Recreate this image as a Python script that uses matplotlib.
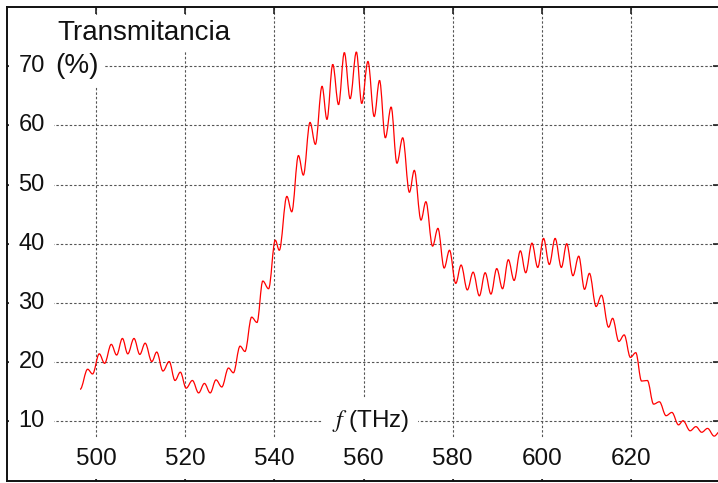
"""
Transmittance spectrum (Fabry-Perot ripple) redrawn with matplotlib.
"""
import matplotlib
matplotlib.use("Agg")
import matplotlib.pyplot as plt
import matplotlib.transforms as mtransforms
from matplotlib.path import Path
from matplotlib.patches import PathPatch

# Extrema of the ripple (frequency in THz, transmittance in %)
FREQ_THZ = [
    496.4, 498.1, 499.2, 500.7, 501.9, 503.4, 504.6, 505.9, 507.1, 508.5,
    509.8, 511.0, 512.5, 513.6, 515.0, 516.4, 517.7, 518.9, 520.2, 521.6,
    523.0, 524.3, 525.6, 526.9, 528.2, 529.7, 530.8, 532.3, 533.4, 534.9,
    536.1, 537.4, 538.7, 540.2, 541.1, 542.8, 543.9, 545.4, 546.5, 548.0,
    549.2, 550.7, 551.8, 553.1, 554.4, 555.7, 557.0, 558.4, 559.6, 561.0,
    562.4, 563.6, 564.9, 566.2, 567.5, 568.8, 570.3, 571.4, 572.9, 574.0,
    575.5, 576.7, 578.1, 579.3, 580.7, 581.9, 583.3, 584.6, 586.0, 587.3,
    588.6, 589.9, 591.2, 592.5, 593.8, 595.2, 596.4, 597.8, 599.1, 600.4,
    601.7, 603.0, 604.4, 605.6, 607.0, 608.3, 609.6, 610.7, 612.2, 613.4,
    615.0, 615.9, 617.3, 618.5, 619.9, 621.1, 622.4, 623.7, 625.1, 626.4,
    627.9, 629.2, 630.7, 631.7, 633.3, 634.6, 635.9, 637.2, 638.7, 640.0,
]
TRANS_PCT = [
    15.4, 18.8, 18.0, 21.4, 19.8, 23.0, 21.2, 24.0, 21.4, 24.0,
    21.3, 23.2, 20.1, 21.7, 18.5, 20.1, 16.9, 18.3, 15.6, 16.9,
    14.8, 16.4, 14.8, 17.0, 15.8, 19.0, 18.2, 22.7, 21.8, 27.6,
    26.7, 33.7, 32.4, 40.6, 38.9, 48.0, 45.4, 54.9, 51.6, 60.5,
    56.8, 66.6, 61.0, 70.3, 63.5, 72.3, 64.5, 72.4, 63.7, 70.8,
    61.5, 67.6, 57.9, 63.1, 53.6, 57.9, 48.7, 52.4, 44.0, 47.1,
    39.6, 42.6, 35.9, 38.9, 33.3, 36.4, 32.2, 35.2, 31.2, 35.1,
    31.5, 35.8, 32.4, 37.3, 33.8, 38.8, 35.1, 40.1, 36.0, 40.9,
    36.5, 40.9, 36.0, 40.0, 34.6, 37.9, 32.3, 35.0, 29.4, 31.3,
    25.9, 27.4, 23.5, 24.6, 20.8, 21.6, 16.8, 16.9, 12.9, 13.3,
    10.95, 11.5, 9.4, 10.1, 8.4, 9.1, 8.15, 8.8, 7.5, 8.3,
]
X_TICKS = [500, 520, 540, 560, 580, 600, 620]
Y_TICKS = [10, 20, 30, 40, 50, 60, 70]

plt.rcParams['font.family'] = ['Liberation Sans', 'DejaVu Sans']
plt.rcParams['mathtext.fontset'] = 'stix'


def ripple_path(xs, ys, k=0.36):
    """Smooth curve through the extrema (flat tangent at each one)."""
    verts = [(xs[0], ys[0])]
    codes = [Path.MOVETO]
    for x0, y0, x1, y1 in zip(xs[:-1], ys[:-1], xs[1:], ys[1:]):
        dx = x1 - x0
        verts += [(x0 + k * dx, y0), (x1 - k * dx, y1), (x1, y1)]
        codes += [Path.CURVE4] * 3
    return Path(verts, codes)


def main():
    fig = plt.figure(figsize=(7.18, 4.83), dpi=100)
    ax = fig.add_axes([7 / 718, 2.5 / 483, 713 / 718, 473.5 / 483])
    ax.set_xlim(480, 640)
    ax.set_ylim(0, 80)

    ax.set_xticks(X_TICKS)
    ax.set_yticks(Y_TICKS)
    ax.tick_params(direction='in', top=True, right=True, length=5, width=1.2,
                   color='#222222', labelbottom=False, labelleft=False)
    ax.grid(True, linestyle=(0, (2.2, 1.8)), color='#555555', linewidth=0.8)
    for sp in ax.spines.values():
        sp.set_linewidth(1.4)
        sp.set_color('#111111')

    curve = PathPatch(ripple_path(FREQ_THZ, TRANS_PCT), facecolor='none',
                      edgecolor='#ff0000', linewidth=0.9, zorder=3)
    ax.add_patch(curve)

    box = dict(boxstyle='square,pad=0.4', fc='white', ec='none')
    y_trans = mtransforms.blended_transform_factory(ax.transAxes, ax.transData)
    x_trans = mtransforms.blended_transform_factory(ax.transData, ax.transAxes)

    for v in Y_TICKS:
        ax.text(0.053, v, str(v), transform=y_trans, ha='right', va='center',
                fontsize=17, color='#111111', bbox=box, zorder=2)
    for v in X_TICKS:
        ax.text(v, 0.046, str(v), transform=x_trans, ha='center', va='center',
                fontsize=17.5, color='#111111', bbox=box, zorder=2)

    ax.text(0.0673, 70, '(%)', transform=y_trans, ha='left', va='center',
            fontsize=20, color='#111111',
            bbox=dict(boxstyle='square,pad=0.25', fc='white', ec='none'),
            zorder=2.2)
    ax.text(0.0702, 0.930, 'Transmitancia', transform=ax.transAxes,
            ha='left', va='baseline', fontsize=20, color='#111111',
            bbox=dict(boxstyle='square,pad=0.2', fc='white', ec='none'),
            zorder=2.1)
    ax.text(561.5, 10, r'$f\ $(THz)', ha='center', va='center',
            fontsize=17.5, color='#111111', bbox=box, zorder=2)

    fig.savefig('out.png', dpi=100)
    plt.close(fig)


if __name__ == "__main__":
    main()
